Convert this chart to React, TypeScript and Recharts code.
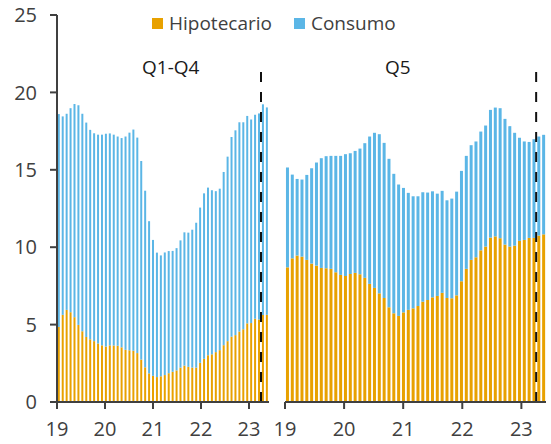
import React from 'react';
import { BarChart, Bar, XAxis, YAxis, ReferenceLine } from 'recharts';

// monthly, Jan 2019 - Jun 2023
const months: string[] = [];
for (let y = 2019; y <= 2023; y++) {
  for (let m = 1; m <= 12; m++) {
    if (y === 2023 && m > 6) break;
    months.push(`${y}-${String(m).padStart(2, '0')}`);
  }
}

const yearLabels = ['19', '20', '21', '22', '23'];
const yTicks = [0, 5, 10, 15, 20, 25];

// Q1-Q4
const hipotecarioQ14 = [
  4.85, 5.63, 5.95, 5.8, 5.48, 4.98, 4.57, 4.2, 4.05, 3.93, 3.78, 3.66,
  3.58, 3.66, 3.65, 3.63, 3.53, 3.37, 3.34, 3.31, 3.16, 2.74, 2.24, 1.85,
  1.69, 1.61, 1.66, 1.74, 1.86, 1.95, 2.04, 2.22, 2.35, 2.27, 2.22, 2.22,
  2.53, 2.79, 3.02, 3.08, 3.22, 3.35, 3.67, 3.93, 4.22, 4.32, 4.55, 4.7,
  5.08, 5.1, 5.38, 5.33, 5.62, 5.63,
];
const consumoQ14 = [
  13.75, 12.82, 12.67, 13.18, 13.77, 14.19, 14.05, 13.85, 13.53, 13.43, 13.49, 13.61,
  13.75, 13.69, 13.62, 13.52, 13.52, 13.78, 14.06, 14.29, 13.92, 12.83, 11.41, 9.83,
  8.78, 8.04, 7.81, 7.92, 7.89, 7.81, 7.9, 8.22, 8.61, 8.67, 8.91, 9.36,
  10.03, 10.69, 10.83, 10.6, 10.4, 10.43, 11.19, 11.92, 12.9, 13.23, 13.52, 13.37,
  13.4, 13.15, 13.17, 13.31, 13.61, 13.4,
];

// Q5
const hipotecarioQ5 = [
  8.7, 9.28, 9.46, 9.39, 9.18, 8.94, 8.81, 8.66, 8.64, 8.6, 8.38, 8.21,
  8.14, 8.27, 8.34, 8.25, 8.02, 7.63, 7.37, 7.02, 6.72, 6.12, 5.73, 5.56,
  5.79, 5.95, 6.05, 6.2, 6.48, 6.59, 6.76, 6.85, 7.05, 6.72, 6.7, 6.89,
  7.8, 8.6, 9.18, 9.35, 9.8, 10.04, 10.62, 10.7, 10.58, 10.17, 10.04, 10.1,
  10.41, 10.47, 10.6, 10.6, 10.75, 10.83,
];
const consumoQ5 = [
  6.45, 5.41, 4.95, 4.98, 5.49, 6.16, 6.66, 7.09, 7.24, 7.3, 7.52, 7.69,
  7.87, 7.8, 7.88, 8.12, 8.7, 9.52, 10.02, 10.28, 10.02, 9.59, 9.01, 8.49,
  8.04, 7.56, 7.24, 7.09, 7.07, 6.94, 6.85, 6.61, 6.59, 6.31, 6.44, 6.7,
  7.13, 7.3, 7.41, 7.48, 7.67, 7.82, 8.25, 8.32, 8.4, 8.12, 7.78, 7.29,
  6.66, 6.36, 6.2, 6.38, 6.4, 6.43,
];

const cutoffIndex = 51; // start of latest data block

const ORANGE = '#E8A100';
const BLUE = '#5BB6E6';
const AXIS = '#404040';
const FONT = '"Open Sans", sans-serif';

const buildRows = (hip: number[], con: number[]) =>
  months.map((m, i) => ({ month: m, hipotecario: hip[i], consumo: con[i] }));

interface PanelProps {
  hip: number[];
  con: number[];
  left: number;
  width: number;
  marginLeft: number;
  marginRight: number;
  showY: boolean;
}

const Panel: React.FC<PanelProps> = ({ hip, con, left, width, marginLeft, marginRight, showY }) => {
  const tickStyle = { fill: AXIS, fontSize: 20, fontFamily: FONT };
  return (
    <div style={{ position: 'absolute', left, top: 0 }}>
      <BarChart
        width={width}
        height={444}
        data={buildRows(hip, con)}
        margin={{ top: 15, right: marginRight, left: marginLeft, bottom: 2 }}
        barCategoryGap="20%"
      >
        <XAxis xAxisId="cat" dataKey="month" hide height={0} padding={{ left: 0, right: 0 }} />
        <XAxis
          xAxisId="num"
          type="number"
          domain={[0, 54]}
          allowDataOverflow
          ticks={[0, 12, 24, 36, 48]}
          interval={0}
          tickFormatter={(v: number) => yearLabels[v / 12]}
          height={40}
          tick={tickStyle}
          tickSize={7}
          tickMargin={13}
          axisLine={{ stroke: AXIS, strokeWidth: 2 }}
          tickLine={{ stroke: AXIS, strokeWidth: 2 }}
        />
        {showY ? (
          <YAxis
            domain={[0, 25]}
            ticks={yTicks}
            interval={0}
            width={57}
            tick={tickStyle}
            tickSize={7}
            tickMargin={13}
            axisLine={{ stroke: AXIS, strokeWidth: 2 }}
            tickLine={{ stroke: AXIS, strokeWidth: 2 }}
          />
        ) : (
          <YAxis domain={[0, 25]} ticks={yTicks} width={0} tick={false} axisLine={false} tickLine={false} />
        )}
        <Bar xAxisId="cat" dataKey="hipotecario" stackId="a" fill={ORANGE} isAnimationActive={false} />
        <Bar xAxisId="cat" dataKey="consumo" stackId="a" fill={BLUE} isAnimationActive={false} />
        <ReferenceLine
          xAxisId="num"
          segment={[{ x: cutoffIndex, y: 0 }, { x: cutoffIndex, y: 21.7 }]}
          stroke="#111"
          strokeWidth={2}
          strokeDasharray="10 10"
          ifOverflow="visible"
        />
      </BarChart>
    </div>
  );
};

const LegendItem: React.FC<{ color: string; label: string }> = ({ color, label }) => (
  <span style={{ display: 'inline-flex', alignItems: 'center', marginRight: 22 }}>
    <span style={{ width: 11, height: 11, background: color, display: 'inline-block', marginRight: 6 }} />
    <span>{label}</span>
  </span>
);

export default function App() {
  return (
    <div style={{ position: 'absolute', left: 0, top: 0, width: 551, height: 444, fontFamily: FONT, background: '#fff' }}>
      <Panel hip={hipotecarioQ14} con={consumoQ14} left={0} width={275} marginLeft={0} marginRight={6} showY />
      <Panel hip={hipotecarioQ5} con={consumoQ5} left={260} width={291} marginLeft={25} marginRight={5} showY={false} />
      <div
        style={{
          position: 'absolute', left: 152, top: 9, fontSize: 19, color: AXIS,
          display: 'flex', whiteSpace: 'nowrap', lineHeight: '28px',
        }}
      >
        <LegendItem color={ORANGE} label="Hipotecario" />
        <LegendItem color={BLUE} label="Consumo" />
      </div>
      <div style={{ position: 'absolute', left: 142, top: 54, fontSize: 19, color: '#1a1a1a', lineHeight: '26px' }}>
        Q1-Q4
      </div>
      <div style={{ position: 'absolute', left: 385, top: 54, fontSize: 19, color: '#1a1a1a', lineHeight: '26px' }}>
        Q5
      </div>
    </div>
  );
}
